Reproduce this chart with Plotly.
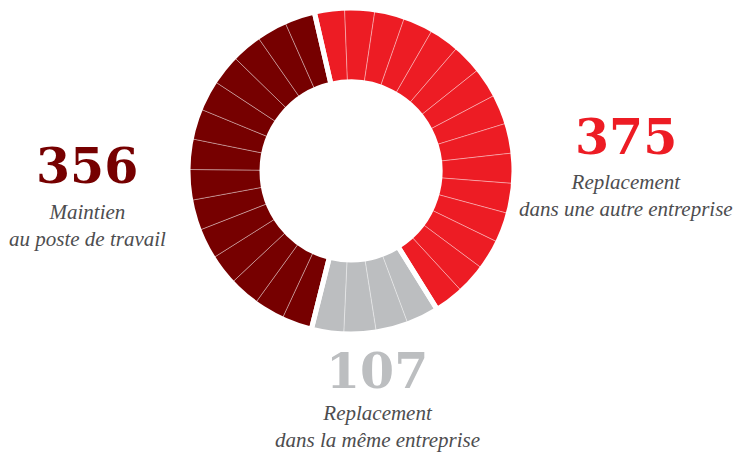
import plotly.graph_objects as go

# Data
categories = ["Replacement dans une autre entreprise",
              "Replacement dans la même entreprise",
              "Maintien au poste de travail"]
values = [375, 107, 356]
colors = ["#ED1C24", "#BCBEC0", "#760000"]
unit = 25  # each sub-segment of the ring stands for about 25 people

W, H = 741, 454
OFF = 8  # page body margin shifts the figure by 8px
cx, cy, R = 351 - OFF, 171 - OFF, 163

# Build sub-slices from the data (equal parts per category)
sub_labels, sub_values, sub_colors = [], [], []
for cat, v, c in zip(categories, values, colors):
    n = max(1, round(v / unit))
    for i in range(n):
        sub_labels.append(f"{cat} #{i+1}")
        sub_values.append(v / n)
        sub_colors.append(c)

y0 = max(0.0, 1 - (cy + R) / H)
y1 = min(1.0, 1 - (cy - R) / H)
dom = dict(x=[(cx - R) / W, (cx + R) / W], y=[y0, y1])
rot = -13
hole = 0.546

fig = go.Figure()
fig.add_trace(go.Pie(
    labels=sub_labels, values=sub_values, sort=False, direction="clockwise",
    rotation=rot, hole=hole, domain=dom, textinfo="none", hoverinfo="skip",
    marker=dict(colors=sub_colors, line=dict(color="rgba(255,255,255,0.35)", width=1)),
    showlegend=False,
))
fig.add_trace(go.Pie(
    labels=categories, values=values, sort=False, direction="clockwise",
    rotation=rot, hole=hole, domain=dom, textinfo="none", hoverinfo="label+value",
    marker=dict(colors=["rgba(0,0,0,0)"] * 3, line=dict(color="white", width=5)),
    showlegend=False,
))

num_font = "DejaVu Serif"
sub_font = "Liberation Serif"
sub_color = "#4D4D4F"

def px(x, y):
    return (x - OFF) / W, 1 - (y - OFF) / H

labels_pos = [
    # (number, subtitle lines, color, center x, number middle y, subtitle middle y)
    (str(values[0]), "Replacement<br>dans une autre entreprise", colors[0], 626, 137, 195),
    (str(values[1]), "Replacement<br>dans la même entreprise", colors[1], 377, 371, 426),
    (str(values[2]), "Maintien<br>au poste de travail", colors[2], 87, 166, 225),
]
for num, sub, col, x, ny, sy in labels_pos:
    ax, ay = px(x, ny)
    fig.add_annotation(x=ax, y=ay, xref="paper", yref="paper", text=f"<b>{num}</b>",
                       showarrow=False, xanchor="center", yanchor="middle",
                       font=dict(family=num_font, size=49, color=col))
    bx, by = px(x, sy)
    fig.add_annotation(x=bx, y=by, xref="paper", yref="paper", text=f"<i>{sub}</i>",
                       showarrow=False, xanchor="center", yanchor="middle",
                       font=dict(family=sub_font, size=21, color=sub_color))

fig.update_layout(width=W, height=H, margin=dict(l=0, r=0, t=0, b=0),
                  paper_bgcolor="white", plot_bgcolor="white")
fig.write_html("out.html")
